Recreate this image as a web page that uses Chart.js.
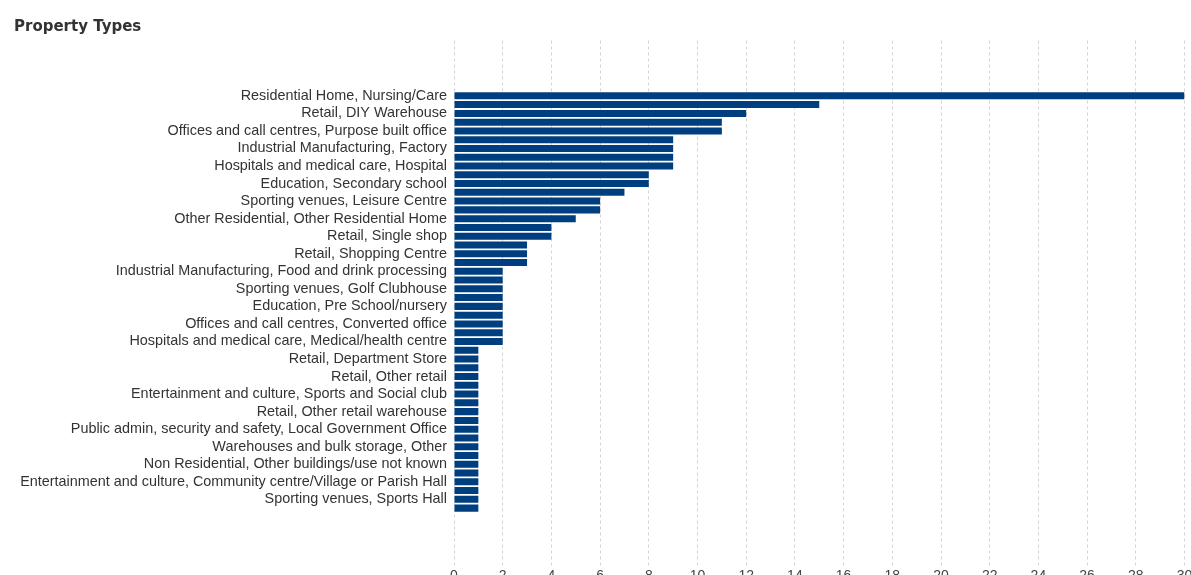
<!DOCTYPE html>
<html>
<head>
<meta charset="utf-8">
<script src="https://cdn.jsdelivr.net/npm/chart.js@4/dist/chart.umd.min.js"></script>
<style>
  html, body { margin: 0; padding: 0; background: #fff; overflow: hidden; }
  #wrap { position: relative; width: 1191px; height: 575px; }
</style>
</head>
<body>
<div id="wrap"><canvas id="chart1"></canvas></div>
<script>
// categories sorted by count, only every other one gets a label on the axis
var categories = [
    "Residential Home, Nursing/Care",
    "Education, Primary school",
    "Retail, DIY Warehouse",
    "Retail, Supermarket",
    "Offices and call centres, Purpose built office",
    "Warehouses and bulk storage, Distribution centre",
    "Industrial Manufacturing, Factory",
    "Residential Home, Sheltered housing",
    "Hospitals and medical care, Hospital",
    "Retail, Retail park",
    "Education, Secondary school",
    "Industrial Manufacturing, Workshop",
    "Sporting venues, Leisure Centre",
    "Hotels, Hotel",
    "Other Residential, Other Residential Home",
    "Education, Further education",
    "Retail, Single shop",
    "Entertainment and culture, Theatre",
    "Retail, Shopping Centre",
    "Hospitals and medical care, Doctors surgery",
    "Industrial Manufacturing, Food and drink processing",
    "Warehouses and bulk storage, Warehouse",
    "Sporting venues, Golf Clubhouse",
    "Entertainment and culture, Cinema",
    "Education, Pre School/nursery",
    "Religious buildings, Church",
    "Offices and call centres, Converted office",
    "Retail, Garden centre",
    "Hospitals and medical care, Medical/health centre",
    "Education, University",
    "Retail, Department Store",
    "Food and drink, Restaurant",
    "Retail, Other retail",
    "Public admin, security and safety, Police station",
    "Entertainment and culture, Sports and Social club",
    "Food and drink, Public house",
    "Retail, Other retail warehouse",
    "Industrial Manufacturing, Other",
    "Public admin, security and safety, Local Government Office",
    "Transport, Car park",
    "Warehouses and bulk storage, Other",
    "Entertainment and culture, Library",
    "Non Residential, Other buildings/use not known",
    "Sporting venues, Swimming pool",
    "Entertainment and culture, Community centre/Village or Parish Hall",
    "Public admin, security and safety, Fire station",
    "Sporting venues, Sports Hall",
    "Other Residential, Student hall of residence"
];
var counts = [
    30, 15, 12, 11, 11, 9, 9, 9, 9, 8,
    8, 7, 6, 6, 5, 4, 4, 3, 3, 3,
    2, 2, 2, 2, 2, 2, 2, 2, 2, 1,
    1, 1, 1, 1, 1, 1, 1, 1, 1, 1,
    1, 1, 1, 1, 1, 1, 1, 1
];
var xTicks = [0, 2, 4, 6, 8, 10, 12, 14, 16, 18, 20, 22, 24, 26, 28, 30];

var points = counts.map(function (v, i) { return { x: v, y: i }; });

var ctx = document.getElementById('chart1').getContext('2d');
var myChart1 = new Chart(ctx, {
    type: 'bar',
    data: {
        datasets: [{
            label: "Property Types",
            data: points,
            backgroundColor: '#003f7f',
            borderWidth: 0,
            barPercentage: 0.8,
            categoryPercentage: 1
        }]
    },
    options: {
        indexAxis: 'y',
        responsive: true,
        maintainAspectRatio: false,
        animation: false,
        layout: { padding: { left: 14, right: 6.5, top: 0, bottom: 0 } },
        plugins: {
            legend: { display: false },
            tooltip: { enabled: false },
            title: {
                display: true,
                text: 'Property Types',
                align: 'start',
                color: '#333333',
                font: { family: 'DejaVu Sans', size: 15, weight: 'bold' },
                padding: { top: 18, bottom: 4.5 }
            }
        },
        scales: {
            x: {
                type: 'linear',
                position: 'bottom',
                min: 0,
                max: 30,
                afterBuildTicks: function (scale) {
                    scale.ticks = xTicks.map(function (v) { return { value: v }; });
                },
                // labels hang off the bottom edge like in the original
                afterFit: function (scale) {
                    scale.height = 7.5;
                    scale.paddingLeft = 0;
                    scale.paddingRight = 0;
                },
                grid: {
                    color: '#d4d4d4',
                    lineWidth: 1,
                    drawTicks: false
                },
                border: { display: false, dash: [3, 3] },
                ticks: {
                    padding: 0,
                    color: '#444444',
                    font: { family: 'Liberation Sans', size: 14 }
                }
            },
            y: {
                type: 'linear',
                reverse: true,
                min: -5.8,
                max: 53.26,
                afterFit: function (scale) {
                    scale.width = 440;
                    scale.paddingTop = 0;
                    scale.paddingBottom = 0;
                },
                grid: { display: false, drawTicks: false },
                border: { display: false },
                ticks: {
                    stepSize: 1,
                    autoSkip: false,
                    includeBounds: false,
                    padding: 7,
                    color: '#333333',
                    font: { family: 'Liberation Sans', size: 14.4 },
                    callback: function (value) {
                        if (Number.isInteger(value) && value >= 0 && value < categories.length && value % 2 === 0) {
                            return categories[value];
                        }
                        return '';
                    }
                }
            }
        }
    }
});
</script>
</body>
</html>
